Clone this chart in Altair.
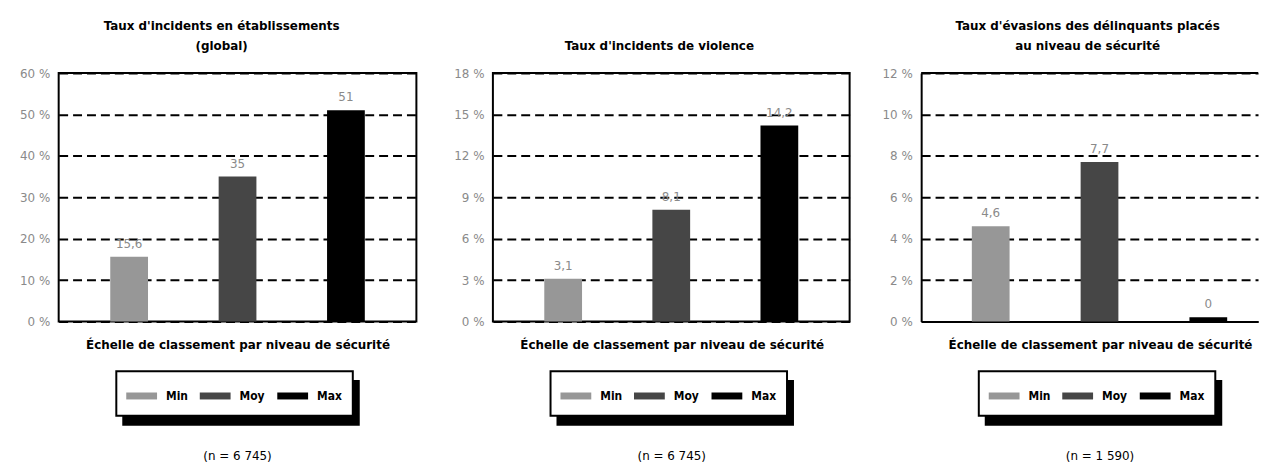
import altair as alt
import pandas as pd

categories = ["Min", "Moy", "Max"]
colors = ["#979797", "#464646", "#000000"]

p1_values = [15.6, 35, 51]
p1_labels = ["15,6", "35", "51"]
p1_title = ["Taux d'incidents en établissements", "(global)"]
p1_ticks = [0, 10, 20, 30, 40, 50, 60]
p1_n = "(n = 6 745)"

p2_values = [3.1, 8.1, 14.2]
p2_labels = ["3,1", "8,1", "14,2"]
p2_title = "Taux d'incidents de violence"
p2_ticks = [0, 3, 6, 9, 12, 15, 18]
p2_n = "(n = 6 745)"

p3_values = [4.6, 7.7, 0.2]
p3_labels = ["4,6", "7,7", "0"]
p3_title = ["Taux d'évasions des délinquants placés", "au niveau de sécurité"]
p3_ticks = [0, 2, 4, 6, 8, 10, 12]
p3_n = "(n = 1 590)"

x_title = "Échelle de classement par niveau de sécurité"

FONT = "DejaVu Sans"
FONT_N = "DejaVu Sans Condensed"


def panel(values, labels, title, ticks, n_text, width, minext, title_dx, open_right=False):
    df = pd.DataFrame({"cat": categories, "value": values, "label": labels})
    if open_right:
        xscale = alt.Scale(domain=categories, paddingInner=0.5, paddingOuter=0.298, align=0.653)
    else:
        xscale = alt.Scale(domain=categories, paddingInner=0.5, paddingOuter=0.4)
    x = alt.X(
        "cat:N", sort=categories, scale=xscale,
        axis=alt.Axis(
            title=x_title, labels=False, ticks=False,
            domain=open_right, domainColor="black", domainWidth=2,
            titlePadding=18, titleFontSize=12, titleFontWeight="bold",
            titleColor="black", titleFont=FONT, titleX=180,
        ),
    )
    y = alt.Y(
        "value:Q",
        scale=alt.Scale(domain=[ticks[0], ticks[-1]], nice=False),
        axis=alt.Axis(
            values=ticks, title=None, labelExpr="datum.value + ' %'",
            grid=True, gridDash=[9, 5], gridColor="black", gridWidth=2, gridOpacity=1,
            ticks=False, domain=open_right, domainColor="black", domainWidth=2,
            labelColor="#8a8a8a", labelFontSize=12, labelFont=FONT,
            labelPadding=9, minExtent=minext,
        ),
    )
    bars = alt.Chart(df).mark_bar(size=38).encode(
        x=x, y=y,
        color=alt.Color("cat:N", scale=alt.Scale(domain=categories, range=colors), legend=None),
    )
    txt = alt.Chart(df).mark_text(dy=-13, color="#8a8a8a", fontSize=12, font=FONT).encode(
        x=alt.X("cat:N", sort=categories), y="value:Q", text="label:N"
    )
    one = pd.DataFrame({"t": [n_text]})
    layers = [bars, txt]
    if open_right:
        layers.append(alt.Chart(one).mark_rule(color="black", strokeWidth=2).encode(
            x=alt.value(0), x2=alt.value(width), y=alt.value(0)))
    # legend box with shadow
    layers.append(alt.Chart(one).mark_rect(color="black").encode(
        x=alt.value(64), x2=alt.value(303), y=alt.value(309), y2=alt.value(355)))
    layers.append(alt.Chart(one).mark_rect(fill="white", stroke="black", strokeWidth=2).encode(
        x=alt.value(58), x2=alt.value(296), y=alt.value(300), y2=alt.value(345)))
    sw_x = [68, 142, 220]
    for i, cat in enumerate(categories):
        layers.append(alt.Chart(one).mark_rule(color=colors[i], strokeWidth=7).encode(
            x=alt.value(sw_x[i]), x2=alt.value(sw_x[i] + 31), y=alt.value(325)))
        layers.append(alt.Chart(one).mark_text(
            align="left", baseline="middle", fontSize=12, fontWeight="bold", font=FONT_N, color="black"
        ).encode(x=alt.value(sw_x[i] + 40), y=alt.value(325), text=alt.value(cat)))
    layers.append(alt.Chart(one).mark_text(
        align="center", baseline="middle", fontSize=12, font=FONT, color="black"
    ).encode(x=alt.value(180), y=alt.value(385), text="t:N"))

    ch = alt.layer(*layers).properties(
        width=width, height=250,
        title=alt.TitleParams(
            text=title, fontSize=12, fontWeight="bold", color="black", font=FONT,
            offset=14, anchor="middle", lineHeight=20, dx=title_dx,
        ),
    )
    if open_right:
        ch = ch.properties(view=alt.ViewBackground(stroke="transparent"))
    return ch


c1 = panel(p1_values, p1_labels, p1_title, p1_ticks, p1_n, 360, 45, -16)
c2 = panel(p2_values, p2_labels, p2_title, p2_ticks, p2_n, 359, 45, -12)
c3 = panel(p3_values, p3_labels, p3_title, p3_ticks, p3_n, 339, 37, -2, open_right=True)

chart = alt.hconcat(c1, c2, c3, spacing=30).properties(
    padding={"left": 5, "top": 10, "right": 0, "bottom": 0}
).configure_view(stroke="black", strokeWidth=2)

chart.save("out.html", embed_options={"renderer": "svg", "actions": False})
